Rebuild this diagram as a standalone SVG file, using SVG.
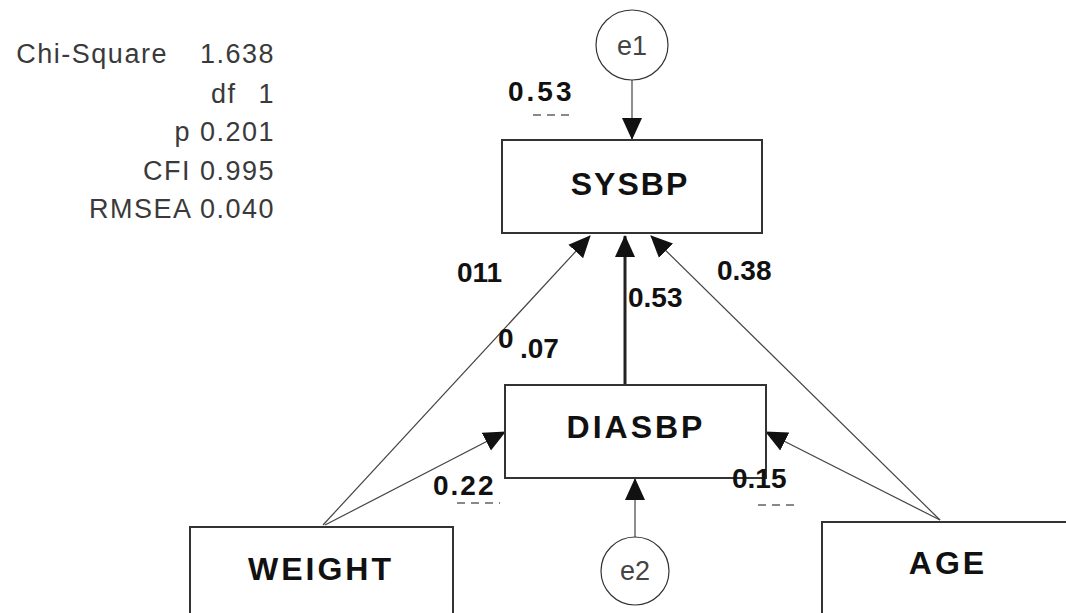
<svg xmlns="http://www.w3.org/2000/svg" width="1066" height="613" viewBox="0 0 1066 613">
<style>
.stat{font-family:"Liberation Sans",Arial,sans-serif;font-size:27px;fill:#3a3a3a;letter-spacing:1.5px;text-anchor:end}
.box{fill:#fff;stroke:#333;stroke-width:2}
.err{fill:#fff;stroke:#333;stroke-width:1.2}
.var{font-family:"Liberation Sans",Arial,sans-serif;font-size:32px;font-weight:bold;fill:#111;text-anchor:middle}
.etx{font-family:"Liberation Sans",Arial,sans-serif;font-size:27px;fill:#444;text-anchor:middle}
.num{font-family:"Liberation Sans",Arial,sans-serif;font-size:28px;font-weight:bold;fill:#111}
.thin{stroke:#444;stroke-width:1.2;fill:none}
.thick{stroke:#222;stroke-width:3;fill:none}
.dash{stroke:#888;stroke-width:2;stroke-dasharray:8 6;fill:none}
</style>
<defs>
<marker id="ah" markerUnits="userSpaceOnUse" markerWidth="22" markerHeight="22" viewBox="0 0 22 22" refX="21" refY="11" orient="auto">
<path d="M0,1 L22,11 L0,21 Z" fill="#111"/>
</marker>
</defs>
<rect width="1066" height="613" fill="#fff"/>
<g id="fit-stats">
<text class="stat" x="275" y="63">Chi-Square<tspan dx="32">1.638</tspan></text>
<text class="stat" x="275" y="103">df<tspan dx="22">1</tspan></text>
<text class="stat" x="275" y="141">p 0.201</text>
<text class="stat" x="275" y="180">CFI 0.995</text>
<text class="stat" x="275" y="218">RMSEA 0.040</text>
</g>
<g id="connectors">
<line class="thin" x1="632" y1="80" x2="632" y2="139" marker-end="url(#ah)"/>
<line class="thin" x1="323" y1="525" x2="590" y2="236" marker-end="url(#ah)"/>
<line class="thick" x1="625" y1="385" x2="625" y2="236" marker-end="url(#ah)"/>
<line class="thin" x1="940" y1="520" x2="651" y2="236" marker-end="url(#ah)"/>
<line class="thin" x1="325" y1="525" x2="505" y2="432" marker-end="url(#ah)"/>
<line class="thin" x1="940" y1="520" x2="766" y2="432" marker-end="url(#ah)"/>
<line class="thin" x1="635" y1="537" x2="635" y2="479" marker-end="url(#ah)"/>
</g>
<g id="e1">
<ellipse class="err" cx="632" cy="45" rx="36" ry="35"/>
<text class="etx" x="632" y="55">e1</text>
</g>
<g id="SYSBP">
<rect class="box" x="502" y="140" width="260" height="93"/>
<text class="var" x="630" y="195" letter-spacing="2">SYSBP</text>
</g>
<g id="DIASBP">
<rect class="box" x="505" y="385" width="261" height="93"/>
<text class="var" x="636" y="438" letter-spacing="3">DIASBP</text>
</g>
<g id="WEIGHT">
<rect class="box" x="190" y="527" width="263" height="100"/>
<text class="var" x="321" y="580" letter-spacing="3">WEIGHT</text>
</g>
<g id="AGE">
<rect class="box" x="822" y="522" width="263" height="100"/>
<text class="var" x="948" y="574" letter-spacing="3">AGE</text>
</g>
<g id="e2">
<ellipse class="err" cx="635" cy="571" rx="34" ry="34"/>
<text class="etx" x="635" y="580">e2</text>
</g>
<g id="labels">
<text class="num" x="508" y="101" letter-spacing="3">0.53</text>
<line class="dash" x1="533" y1="115" x2="575" y2="115"/>
<text class="num" x="457" y="282">011</text>
<text class="num" x="628" y="307">0.53</text>
<text class="num" x="717" y="280">0.38</text>
<text class="num" x="498" y="348">0<tspan x="520" y="358">.07</tspan></text>
<text class="num" x="433" y="495" letter-spacing="2">0.22</text>
<line class="dash" x1="457" y1="503" x2="500" y2="503"/>
<text class="num" x="732" y="488">0.15</text>
<line class="dash" x1="758" y1="505" x2="800" y2="505"/>
</g>
</svg>
